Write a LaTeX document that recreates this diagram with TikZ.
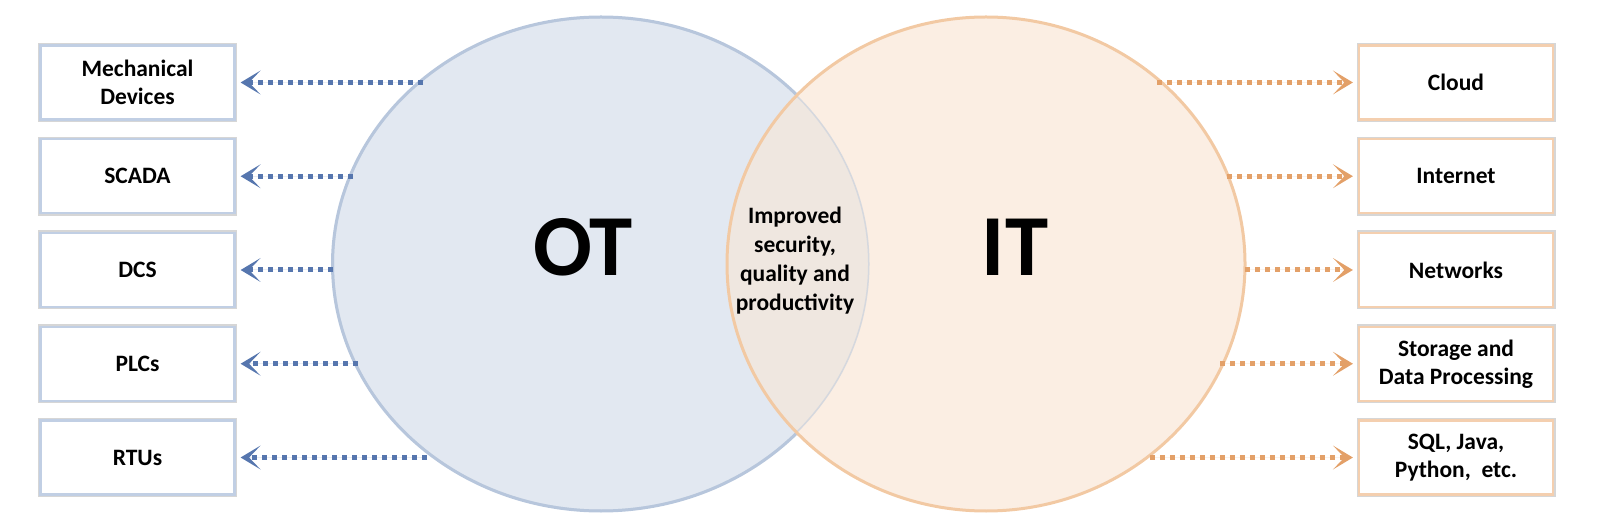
\documentclass[tikz,border=0pt]{standalone}
\usepackage{fontspec}
\setmainfont{Carlito}
\usetikzlibrary{arrows.meta,shapes.geometric}
\definecolor{otfill}{HTML}{E2E8F1}
\definecolor{otline}{HTML}{B7C6DC}
\definecolor{itfill}{HTML}{FBEEE3}
\definecolor{itline}{HTML}{F2C9A3}
\definecolor{ovfill}{HTML}{EFE7E0}
\definecolor{blarrow}{HTML}{5676AE}
\definecolor{orarrow}{HTML}{E3A068}
\definecolor{lboxline}{HTML}{C1CFE4}
\definecolor{rboxline}{HTML}{F4CFAF}
\tikzset{
  itembox/.style={rectangle, minimum width=194pt, minimum height=74pt, fill=white,
    line width=2.2pt, preaction={draw=black!16, line width=5pt},
    font=\fontsize{23.5}{28}\selectfont\bfseries, align=center, inner sep=0pt},
  lbox/.style={itembox, draw=lboxline},
  rbox/.style={itembox, draw=rboxline},
  darrow/.style={line width=5pt, dash pattern=on 5pt off 5pt,
    -{Stealth[length=20pt, width=24pt, inset=11.5pt, line width=0pt]}},
  larrow/.style={darrow, draw=blarrow, fill=blarrow},
  rarrow/.style={darrow, draw=orarrow, fill=orarrow},
  bigcircle/.style={ellipse, minimum height=494pt, inner sep=0pt, line width=3pt},
}
\begin{document}
\begin{tikzpicture}[x=1pt, y=-1pt]
\useasboundingbox (0,0) rectangle (1598,526);
% circles
\node (ot) [bigcircle, minimum width=537pt, fill=otfill, draw=otline] at (601,264) {};
\node (it) [bigcircle, minimum width=518pt, fill=itfill] at (986,264) {};
\begin{scope}
  \clip (601,264) ellipse [x radius=268.5pt, y radius=247pt];
  \fill[ovfill] (986,264) ellipse [x radius=259pt, y radius=247pt];
  \draw[otline, line width=3pt, draw opacity=0.45] (601,264) ellipse [x radius=268.5pt, y radius=247pt];
\end{scope}
\draw[itline, line width=3pt] (it.center) ellipse [x radius=259pt, y radius=247pt];
\node (otlabel) at (583,247) {\fontsize{87}{90}\selectfont\bfseries OT};
\node (itlabel) at (1015,247) {\fontsize{87}{90}\selectfont\bfseries IT};
\node (mid) [align=center, font=\fontsize{23.5}{29}\selectfont\bfseries] at (795,261)
  {Improved\\security,\\quality and\\productivity};
% left boxes
\node (mech)  [lbox] at (137.5,82.5)  {Mechanical\\Devices};
\node (scada) [lbox] at (137.5,176.25) {SCADA};
\node (dcs)   [lbox] at (137.5,270)   {DCS};
\node (plc)   [lbox] at (137.5,363.75) {PLCs};
\node (rtu)   [lbox] at (137.5,457.5) {RTUs};
% right boxes
\node (cloud) [rbox] at (1456,82.5)   {Cloud};
\node (inet)  [rbox] at (1456,176.25) {Internet};
\node (net)   [rbox] at (1456,270)    {Networks};
\node (stor)  [rbox] at (1456,363.75) {Storage and\\Data Processing};
\node (sql)   [rbox] at (1456,457.5)  {SQL, Java,\\Python,~ etc.};
% tail coordinates
\coordinate (m0) at (423,82.5);
\coordinate (s0) at (353,176.25);
\coordinate (d0) at (333,270);
\coordinate (p0) at (358,363.75);
\coordinate (r0) at (427,457.5);
\coordinate (c0) at (1157,82.5);
\coordinate (i0) at (1227,176.25);
\coordinate (n0) at (1245,270);
\coordinate (st0) at (1220,363.75);
\coordinate (q0) at (1150,457.5);
% arrows
\draw[larrow] (m0) -- ([xshift=5pt]mech.east);
\draw[larrow] (s0) -- ([xshift=5pt]scada.east);
\draw[larrow] (d0) -- ([xshift=5pt]dcs.east);
\draw[larrow] (p0) -- ([xshift=5pt]plc.east);
\draw[larrow] (r0) -- ([xshift=5pt]rtu.east);
\draw[rarrow] (c0) -- ([xshift=-5pt]cloud.west);
\draw[rarrow] (i0) -- ([xshift=-5pt]inet.west);
\draw[rarrow] (n0) -- ([xshift=-5pt]net.west);
\draw[rarrow] (st0) -- ([xshift=-5pt]stor.west);
\draw[rarrow] (q0) -- ([xshift=-5pt]sql.west);
\end{tikzpicture}
\end{document}
